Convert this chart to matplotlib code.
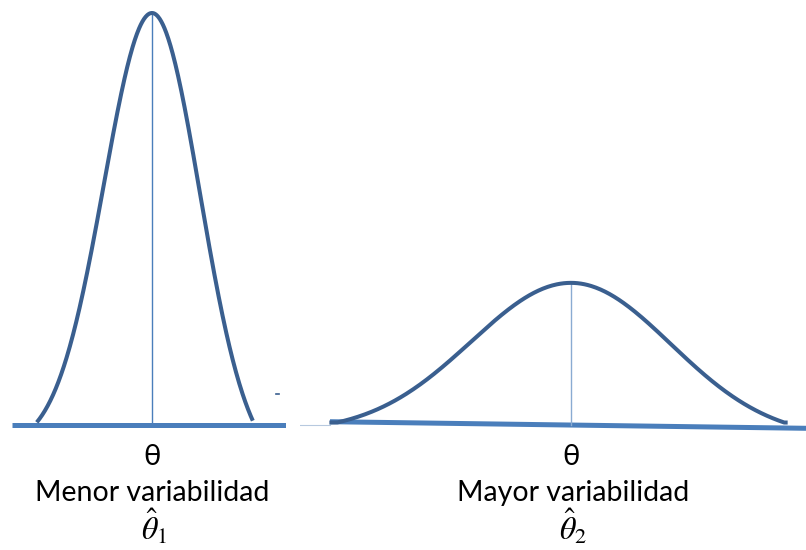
import numpy as np
import matplotlib
matplotlib.use("Agg")
import matplotlib.pyplot as plt

plt.rcParams['font.family'] = ['Lato', 'DejaVu Sans']
plt.rcParams['mathtext.fontset'] = 'stix'

# two estimators of the same parameter theta
theta = 0.0
labels = ["Menor variabilidad", "Mayor variabilidad"]
estimators = [r"$\hat{\theta}_1$", r"$\hat{\theta}_2$"]
spreads = [1.0, 2.08]          # standard deviation of each estimator
peaks = [1.0, 0.345]           # drawn height of each bell
tails = [(-2.4, 2.1), (-2.42, 2.17)]   # where each drawn bell stops, in sd units

curve_col = "#3a5f8f"
base_col = "#4a7ebb"
mid_col = ["#4a7ebb", "#8aabd2"]

fig = plt.figure(figsize=(8.06, 5.5), dpi=100)
# panel extents in figure fractions
ax1 = fig.add_axes([12 / 806, 0, 274 / 806, 1])
ax2 = fig.add_axes([300 / 806, 0, 506 / 806, 1])
px = 48.0  # pixels per unit along x
ylo, yhi = -125 / 412, 425 / 412
ax1.set_xlim(-140 / px, 134 / px)
ax2.set_xlim(-271 / px, 235 / px)

for i, ax in enumerate([ax1, ax2]):
    sd, pk = spreads[i], peaks[i]
    lo, hi = tails[i]
    z = np.linspace(lo, hi, 400)
    # each side of the bell drops to the base at its own tail
    ext = np.where(z < 0, abs(lo), hi) * 1.02
    floor = np.exp(-0.5 * ext ** 2)
    y = pk * (np.exp(-0.5 * z ** 2) - floor) / (1 - floor)
    y = np.clip(y, 0.006, None)
    ax.plot(theta + z * sd, y, color=curve_col, lw=2.9, solid_capstyle='butt', zorder=3)
    ax.plot([theta, theta], [0, pk], color=mid_col[i], lw=1.0, zorder=2)
    ax.set_ylim(ylo, yhi)
    ax.axis('off')
    ax.text(theta, -32 / 412, "θ", ha='center', va='center', fontsize=21, color='black')
    ax.text(theta + 0.05 * i, -68 / 412, labels[i], ha='center', va='center', fontsize=20.5, color='black')
    ax.text(theta + 0.05, -101 / 412, estimators[i], ha='center', va='center', fontsize=23, color='black')

# base lines
ax1.plot([-140 / px, 134 / px], [0, 0], color=base_col, lw=3.6, solid_capstyle='butt', zorder=1)
ax2.plot([-241 / px, 235 / px], [0.008, -0.008], color=base_col, lw=3.6, solid_capstyle='butt', zorder=1)
ax2.plot([-271 / px, -241 / px], [0.0, 0.0], color="#b7c9df", lw=0.8, zorder=1)
# small stray mark
ax1.plot([124 / px, 127 / px], [31 / 412, 31 / 412], color=curve_col, lw=1.2)

fig.savefig("out.png", dpi=100)
